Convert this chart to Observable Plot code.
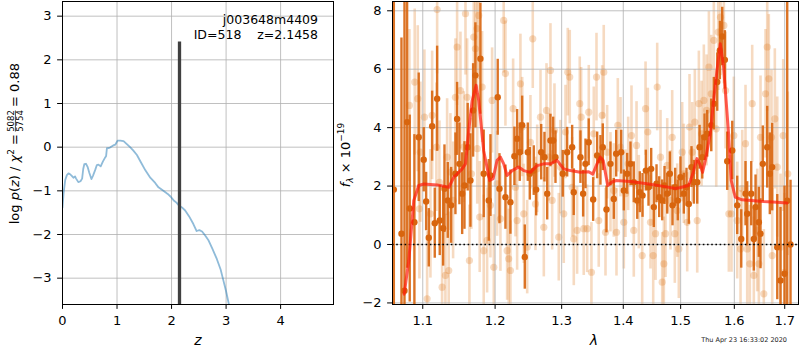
<!DOCTYPE html>
<html><head><meta charset="utf-8">
<script src="https://cdn.jsdelivr.net/npm/d3@7"></script>
<script src="https://cdn.jsdelivr.net/npm/@observablehq/plot@0.6"></script>
<style>
body{margin:0;background:#fff;}
#wrap{position:relative;width:800px;height:350px;overflow:hidden;background:#fff;}
#wrap svg{position:absolute;top:0;overflow:visible;font-family:"DejaVu Sans",sans-serif !important;}
#wrap svg text{font-family:"DejaVu Sans",sans-serif !important;}
#wrap svg g[aria-label$="tick label"] text{font-size:13px !important;}
</style></head><body><div id="wrap"></div>
<script>
// ---------- left panel: p(z) ----------
const zTicks = [0, 1, 2, 3, 4];
const logpTicks = [-3, -2, -1, 0, 1, 2, 3];
const pzZ = [0.00, 0.02, 0.05, 0.08, 0.11, 0.14, 0.17, 0.20, 0.23, 0.25, 0.27, 0.29, 0.33, 0.36, 0.38, 0.40, 0.43, 0.46, 0.49, 0.53,
  0.56, 0.60, 0.63, 0.66, 0.70, 0.74, 0.78, 0.80, 0.815, 0.84, 0.87, 0.93, 0.97, 1.01, 1.06, 1.12, 1.18, 1.24, 1.30, 1.365,
  1.44, 1.52, 1.61, 1.70, 1.76, 1.85, 1.93, 1.98, 2.04, 2.09, 2.13, 2.19, 2.25, 2.32, 2.40, 2.46, 2.51, 2.56, 2.62, 2.68,
  2.75, 2.83, 2.90, 2.95, 3.00, 3.05, 3.08];
const pzLogP = [-1.38, -1.05, -0.75, -0.64, -0.60, -0.62, -0.66, -0.70, -0.67, -0.72, -0.76, -0.80, -0.78, -0.72, -0.50, -0.39, -0.38, -0.45, -0.58, -0.73,
  -0.65, -0.52, -0.41, -0.40, -0.44, -0.33, -0.24, -0.20, -0.02, -0.02, -0.01, 0.04, 0.06, 0.15, 0.15, 0.14, 0.07, 0.00, -0.08, -0.18,
  -0.35, -0.53, -0.70, -0.82, -0.92, -1.00, -1.07, -1.13, -1.22, -1.27, -1.33, -1.38, -1.45, -1.58, -1.76, -1.92, -1.90, -1.93, -2.03, -2.14,
  -2.33, -2.56, -2.80, -3.05, -3.30, -3.59, -3.75];
const zBest = [2.1458];
const zBarTop = [2.41];
const objName = "j003648m4409";
const objId = 518;
const chi2Num = 5082, chi2Den = 5754, chi2Ratio = "0.88";

// ---------- right panel: spectrum ----------
const lamTicks = [1.1, 1.2, 1.3, 1.4, 1.5, 1.6, 1.7];
const fluxTicks = [-2, 0, 2, 4, 6, 8];
const zeroLine = [0];
const darkWave = [1.0624, 1.0722, 1.0761, 1.0795, 1.0829, 1.0890, 1.0947, 1.1013, 1.1045, 1.1080,
  1.1125, 1.1160, 1.1192, 1.1227, 1.1273, 1.1291, 1.1336, 1.1382, 1.1441, 1.1464,
  1.1496, 1.1534, 1.1566, 1.1611, 1.1649, 1.1687, 1.1719, 1.1790, 1.1837, 1.1909,
  1.1933, 1.2038, 1.2063, 1.2150, 1.2223, 1.2282, 1.2322, 1.2361, 1.2397, 1.2436,
  1.2481, 1.2511, 1.2571, 1.2608, 1.2684, 1.2734, 1.2776, 1.2826, 1.2868, 1.2904,
  1.3017, 1.3086, 1.3165, 1.3190, 1.3297, 1.3340, 1.3378, 1.3430, 1.3502, 1.3567,
  1.3621, 1.3659, 1.3720, 1.3786, 1.3841, 1.3881, 1.3965, 1.4009, 1.4066, 1.4122,
  1.4178, 1.4237, 1.4281, 1.4328, 1.4385, 1.4431, 1.4478, 1.4524, 1.4571, 1.4618,
  1.4671, 1.4712, 1.4760, 1.4806, 1.4854, 1.4902, 1.4949, 1.4997, 1.5057, 1.5106,
  1.5148, 1.5197, 1.5240, 1.5302, 1.5345, 1.5395, 1.5437, 1.5487, 1.5562, 1.5611,
  1.5675, 1.5724, 1.5769, 1.5819, 1.5864, 1.5960, 1.6056, 1.6134, 1.6217, 1.6250,
  1.6329, 1.6380, 1.6414, 1.6479, 1.6512, 1.6558, 1.6646, 1.6698, 1.6746, 1.6848,
  1.6914, 1.6996, 1.7051, 1.7119];
const darkFlux = [1.88, 0.37, -1.58, 4.19, 1.23, 0.76, 3.67, 2.90, 1.47, 0.23,
  4.05, 0.73, 4.99, 0.82, 0.56, 1.91, 1.51, 1.34, 2.42, 4.30,
  2.76, 1.74, 2.02, 3.33, 2.19, 4.59, 5.79, 6.36, 2.42, 1.51,
  2.36, 5.04, 1.91, 1.62, 1.45, 3.02, 3.62, 3.16, 4.08, -0.43,
  3.16, 2.42, 2.53, 1.88, 3.16, 2.99, 1.74, 3.56, 3.56, 2.99,
  2.42, 3.16, 3.33, 1.79, 2.99, 1.74, 2.76, 3.50, 1.54, 3.05,
  2.88, 3.33, 1.20, 2.76, 1.56, 3.11, 3.16, 1.85, 2.42, 2.76,
  2.13, 1.51, 1.79, 1.68, 2.53, 1.96, 2.59, 1.28, 2.08, 1.62,
  1.51, 2.02, 1.74, 2.42, 1.34, 1.96, 1.51, 2.30, 1.74, 1.96,
  1.39, 2.65, 2.13, 2.13, 3.33, 2.99, 3.67, 3.79, 4.08, 4.82,
  5.56, 6.64, 7.12, 6.32, 2.85, 3.22, 1.34, 0.19, 1.74, 1.05,
  1.74, 0.19, 1.28, 0.76, 0.37, 2.76, 3.33, 2.42, 2.65, -0.09,
  -1.23, -1.00, 1.50, 0.00];
const darkErr = [12, 6.7, 10, 5, 3.2, 3.0, 2.2, 1.1, 1.0, 1.0,
  1.2, 1.2, 1.8, 1.2, 1.3, 1.5, 1.3, 1.3, 1.4, 1.25,
  1.4, 1.4, 1.5, 1.5, 1.6, 1.6, 1.8, 1.9, 1.5, 1.4,
  1.4, 1.3, 1.2, 1.1, 1.1, 1.0, 1.0, 1.0, 1.0, 1.1,
  1.0, 0.9, 0.85, 0.9, 0.95, 0.85, 0.9, 0.9, 0.8, 0.9,
  0.8, 0.85, 0.75, 0.8, 0.9, 0.8, 0.85, 0.8, 0.75, 0.8,
  0.85, 0.8, 0.8, 0.75, 0.7, 0.8, 0.75, 0.7, 0.7, 0.75,
  0.7, 0.65, 0.7, 0.75, 0.7, 0.65, 0.7, 0.7, 0.65, 0.7,
  0.7, 0.65, 0.7, 0.75, 0.7, 0.65, 0.7, 0.7, 0.7, 0.65,
  0.7, 0.7, 0.75, 0.75, 0.75, 0.75, 0.8, 0.8, 0.9, 0.9,
  1.0, 1.0, 1.0, 1.0, 1.0, 1.0, 1.0, 1.0, 1.1, 1.1,
  1.1, 1.1, 1.1, 1.2, 1.2, 1.3, 1.4, 1.4, 1.5, 1.8,
  2.5, 3.0, 12, 2.2];
const lightWave = [1.0825, 1.0894, 1.0934, 1.0956, 1.0969, 1.1022, 1.1058, 1.1102, 1.1125, 1.1182,
  1.1192, 1.1223, 1.1259, 1.1304, 1.1327, 1.1349, 1.1372, 1.1409, 1.1441, 1.1464,
  1.1510, 1.1556, 1.1580, 1.1603, 1.1635, 1.1663, 1.1696, 1.1719, 1.1743, 1.1766,
  1.1745, 1.1780, 1.1814, 1.1837, 1.1885, 1.1933, 1.1957, 1.1981, 1.2029, 1.2077,
  1.2125, 1.2150, 1.2175, 1.2198, 1.2223, 1.2263, 1.2297, 1.2322, 1.2371, 1.2397,
  1.2421, 1.2472, 1.2521, 1.2556, 1.2597, 1.2623, 1.2673, 1.2724, 1.2765, 1.2800,
  1.2826, 1.2852, 1.2888, 1.2955, 1.2981, 1.3033, 1.3060, 1.3096, 1.3127, 1.3165,
  1.3191, 1.3244, 1.3286, 1.3308, 1.3350, 1.3405, 1.3431, 1.3474, 1.3512, 1.3556,
  1.3593, 1.3649, 1.3675, 1.3704, 1.3731, 1.3786, 1.3841, 1.3886, 1.3908, 1.3953,
  1.4009, 1.4037, 1.4083, 1.4139, 1.4178, 1.4225, 1.4264, 1.4322, 1.4380, 1.4419,
  1.4466, 1.4513, 1.4554, 1.4583, 1.4641, 1.4671, 1.4700, 1.4730, 1.4760, 1.4818,
  1.4848, 1.4895, 1.4938, 1.4967, 1.5028, 1.5057, 1.5119, 1.5161, 1.5210, 1.5258,
  1.5302, 1.5332, 1.5382, 1.5424, 1.5475, 1.5518, 1.5562, 1.5611, 1.5656, 1.5694,
  1.5737, 1.5800, 1.5832, 1.5895, 1.5946, 1.5991, 1.6056, 1.6120, 1.6153, 1.6217,
  1.6250, 1.6301, 1.6348, 1.6380, 1.6447, 1.6479, 1.6512, 1.6578, 1.6612, 1.6646,
  1.6678, 1.6732, 1.6746, 1.6799, 1.6848, 1.6914, 1.6969, 1.6996, 1.7063];
const lightFlux = [4.76, 5.56, 4.99, 1.22, 3.16, 4.36, -1.86, 1.05, 4.42, 3.33,
  8.04, 2.13, -1.46, -1.06, 2.99, -0.89, 2.48, 1.51, 5.04, 6.76,
  5.27, 3.33, 7.90, 5.04, -0.55, 2.42, 7.10, 6.70, 7.39, 7.84,
  3.28, 0.94, 5.39, -0.21, 0.14, 1.34, 4.93, -0.78, 2.08, 0.88,
  7.67, 5.85, -0.21, -0.49, -0.89, 4.65, 1.96, 0.82, 5.50, 4.02,
  1.05, -0.09, 3.50, 7.04, 1.39, 2.59, 4.36, 0.59, 4.59, 2.99,
  5.96, 1.51, 3.90, 0.25, 2.65, 1.05, 3.85, 5.90, 5.73, 1.96,
  0.19, 0.48, 4.82, 4.36, 0.54, 0.54, 4.53, -0.95, 3.79, 5.73,
  0.82, 4.42, 5.90, 0.42, 3.16, 2.13, 1.85, 0.42, 4.08, 3.33,
  0.76, 1.74, 2.76, 3.73, 0.48, 3.39, 1.45, -0.38, 4.65, 3.85,
  0.76, -0.38, 0.37, 5.39, 2.99, -1.29, -0.66, 0.37, 2.71, 1.51,
  3.67, 0.37, 1.16, -0.15, 3.16, 2.42, 0.76, 4.02, 3.16, 4.19,
  0.82, 4.82, 3.79, 4.93, 4.59, 6.07, 5.16, 6.99, 3.96, 7.27,
  7.78, 7.50, 5.27, 1.05, 1.05, 3.73, 0.82, -0.15, 1.91, 3.45,
  -0.15, -0.66, 4.82, -1.06, 0.48, -0.66, 3.67, -1.69, 5.16, 6.76,
  5.67, 3.67, -0.38, 4.30, 2.65, -0.09, 3.73, -0.95, 2.42];
const lightErr = [2.6, 2.5, 2.5, 2.4, 2.4, 2.3, 2.3, 2.2, 2.2, 2.2,
  2.2, 2.1, 2.1, 2.1, 2.0, 2.0, 2.0, 2.0, 2.0, 2.0,
  2.0, 1.9, 2.1, 2.0, 1.9, 1.9, 2.1, 2.1, 2.2, 2.2,
  1.9, 1.9, 1.9, 1.9, 1.8, 1.8, 1.8, 1.8, 1.8, 1.8,
  1.8, 1.8, 1.7, 1.7, 1.7, 1.7, 1.7, 1.7, 1.7, 1.7,
  1.7, 1.6, 1.6, 1.7, 1.6, 1.5, 1.6, 1.7, 1.6, 1.5,
  1.6, 1.7, 1.6, 1.5, 1.6, 1.7, 1.6, 1.5, 1.6, 1.7,
  1.6, 1.5, 1.6, 1.7, 1.6, 1.5, 1.6, 1.7, 1.6, 1.5,
  1.6, 1.7, 1.6, 1.5, 1.6, 1.7, 1.6, 1.5, 1.6, 1.7,
  1.6, 1.5, 1.6, 1.7, 1.6, 1.5, 1.6, 1.7, 1.6, 1.5,
  1.6, 1.7, 1.6, 1.5, 1.6, 1.7, 1.6, 1.5, 1.6, 1.7,
  1.6, 1.7, 1.6, 1.7, 1.7, 1.7, 1.7, 1.8, 1.7, 1.8,
  1.8, 1.8, 1.8, 1.9, 1.9, 1.9, 2.0, 2.0, 2.0, 2.0,
  2.0, 2.0, 2.0, 2.0, 2.0, 2.0, 2.0, 2.0, 2.0, 2.0,
  2.0, 2.0, 2.0, 2.0, 2.1, 2.1, 2.1, 2.2, 2.2, 2.2,
  2.2, 2.3, 2.3, 2.4, 2.4, 2.5, 2.6, 2.7, 2.8];
const modelWave = [1.0757, 1.0817, 1.0882, 1.0947, 1.1013, 1.1192, 1.1350, 1.1418, 1.1534, 1.1580,
  1.1625, 1.1673, 1.1729, 1.1766, 1.1837, 1.1922, 1.1971, 1.2028, 1.2077, 1.2125,
  1.2174, 1.2248, 1.2345, 1.2419, 1.2521, 1.2621, 1.2722, 1.2825, 1.2928, 1.3032,
  1.3136, 1.3295, 1.3429, 1.3496, 1.3565, 1.3620, 1.3665, 1.3740, 1.3812, 1.3882,
  1.4120, 1.4405, 1.4696, 1.4904, 1.4980, 1.5144, 1.5220, 1.5297, 1.5348, 1.5400,
  1.5452, 1.5544, 1.5600, 1.5670, 1.5732, 1.5795, 1.5890, 1.5940, 1.6018, 1.6148,
  1.6573, 1.6842, 1.7046];
const modelFlux = [-1.70, -0.55, 1.51, 2.02, 2.07, 2.04, 1.96, 2.30, 2.59, 2.76,
  3.90, 4.92, 5.45, 4.92, 3.20, 2.19, 2.25, 2.88, 2.99, 2.76,
  2.36, 2.53, 2.65, 2.53, 2.47, 2.70, 2.76, 2.76, 2.88, 2.59,
  2.53, 2.47, 2.49, 2.41, 2.76, 2.99, 2.88, 2.02, 2.14, 2.19,
  2.16, 2.08, 1.99, 1.92, 1.94, 2.02, 2.41, 2.94, 2.76, 2.47,
  2.88, 3.79, 4.82, 5.96, 6.87, 6.08, 3.79, 2.19, 1.62, 1.53,
  1.47, 1.45, 1.42];
const stamp = "Thu Apr 23 16:33:02 2020";

// ---------- build ----------
const FONT = '"DejaVu Sans", sans-serif';
const FS = 13;
const minus = d => (d < 0 ? "\u2212" : "") + Math.abs(d);
const GRID = {stroke: "#b0b0b0", strokeOpacity: 1, strokeWidth: 0.8};
const AX = {tickSize: 4.9, tickPadding: 6, label: null, fontSize: FS};
const pz = pzZ.map((z, i) => ({z, lp: pzLogP[i]}));
const zbar = zBest.map((z, i) => ({z, top: zBarTop[i]}));
const dark = darkWave.map((w, i) => ({w, f: darkFlux[i], e: darkErr[i]}));
const light = lightWave.map((w, i) => ({w, f: lightFlux[i], e: lightErr[i]}));
const model = modelWave.map((w, i) => ({w, f: modelFlux[i]}));
const LY = [-3.603, 3.336];
const RY = [-2.054, 8.318];

const left = Plot.plot({
  width: 340, height: 350, marginLeft: 62, marginRight: 7, marginTop: 1, marginBottom: 46,
  style: "background: white; color: black; font-family: 'DejaVu Sans', sans-serif; font-size: 13px;",
  x: {domain: [0, 4.97]},
  y: {domain: LY},
  marks: [
    Plot.gridX(zTicks, GRID),
    Plot.gridY(logpTicks, GRID),
    Plot.line(pz, {x: "z", y: "lp", stroke: "#1f77b4", strokeOpacity: 0.5, strokeWidth: 1.8, clip: true}),
    Plot.ruleX(zbar, {x: "z", y1: LY[0], y2: "top", stroke: "#404040", strokeWidth: 3.3, clip: true}),
    Plot.axisX(zTicks, {...AX, tickFormat: minus}),
    Plot.axisY(logpTicks, {...AX, tickFormat: minus}),
    Plot.frame({stroke: "black", strokeWidth: 1})
  ]
});

const right = Plot.plot({
  width: 470, height: 350, marginLeft: 62, marginRight: 2, marginTop: 1, marginBottom: 46,
  style: "background: transparent; color: black; font-family: 'DejaVu Sans', sans-serif; font-size: 13px;",
  x: {type: "log", domain: [1.0607, 1.7284]},
  y: {domain: RY},
  marks: [
    Plot.ruleX(light, {x: "w", y1: d => d.f - d.e, y2: d => d.f + d.e, stroke: "#e07a20", strokeOpacity: 0.28, strokeWidth: 2.6, clip: true}),
    Plot.dot(light, {x: "w", y: "f", r: 3.6, fill: "#e07a20", fillOpacity: 0.28, stroke: "none", clip: true}),
    Plot.gridX(lamTicks, GRID),
    Plot.gridY(fluxTicks, GRID),
    Plot.ruleX(dark, {x: "w", y1: d => d.f - d.e, y2: d => d.f + d.e, stroke: "#d8650e", strokeOpacity: 0.9, strokeWidth: 2.4, clip: true}),
    Plot.dot(dark, {x: "w", y: "f", r: 3.2, fill: "#d8650e", stroke: "none", clip: true}),
    Plot.ruleY(zeroLine, {stroke: "black", strokeDasharray: "1.6,2.6", strokeWidth: 1.6}),
    Plot.line(model, {x: "w", y: "f", stroke: "#ff1a0a", strokeOpacity: 0.7, strokeWidth: 3, clip: true}),
    Plot.axisX(lamTicks, {...AX, tickFormat: d => d.toFixed(1)}),
    Plot.axisY(fluxTicks, {...AX, tickFormat: minus}),
    Plot.frame({stroke: "black", strokeWidth: 1})
  ]
});

// enforce tick label font size on the text nodes of every axis mark
for (const svg of [left, right]) {
  d3.select(svg).selectAll("g[aria-label]")
    .filter(function () { return /tick label/.test(this.getAttribute("aria-label")); })
    .attr("font-size", FS)
    .selectAll("text").attr("font-size", FS);
}

const wrap = document.getElementById("wrap");
left.style.left = "0px";
right.style.left = "330px";
wrap.appendChild(left);
wrap.appendChild(right);

// left labels
const sl = d3.select(left);
const ann = sl.append("g").attr("font-family", FONT).attr("font-size", 12.5).attr("fill", "black").attr("text-anchor", "end");
ann.append("text").attr("x", 318).attr("y", 24).text(objName);
ann.append("text").attr("x", 318).attr("y", 39).attr("xml:space", "preserve").style("white-space", "pre")
  .text(`ID=${objId}    z=${zBest[0].toFixed(4)}`);
sl.append("text").attr("x", 198).attr("y", 345).attr("text-anchor", "middle").attr("font-family", FONT)
  .attr("font-size", 14).attr("font-style", "italic").attr("fill", "black").text("z");

const gy = sl.append("g").attr("transform", "translate(19,239) rotate(-90)").attr("font-family", FONT).attr("font-size", 13).attr("fill", "black");
const t1 = gy.append("text").attr("x", 105).attr("y", 0).attr("text-anchor", "end").attr("xml:space", "preserve").style("white-space", "pre");
t1.append("tspan").text("log ");
t1.append("tspan").attr("font-style", "italic").text("p");
t1.append("tspan").text("(");
t1.append("tspan").attr("font-style", "italic").text("z");
t1.append("tspan").text(") / ");
t1.append("tspan").attr("font-style", "italic").text("\u03c7");
t1.append("tspan").attr("font-size", 9).attr("dy", -5.5).text("2");
t1.append("tspan").attr("dy", 5.5).text(" =");
gy.append("text").attr("x", 118).attr("y", -5).attr("text-anchor", "middle").attr("font-size", 8.5).text(String(chi2Num));
gy.append("line").attr("x1", 107.5).attr("x2", 128.5).attr("y1", -3.6).attr("y2", -3.6).attr("stroke", "black").attr("stroke-width", 0.7);
gy.append("text").attr("x", 118).attr("y", 3.6).attr("text-anchor", "middle").attr("font-size", 8.5).text(String(chi2Den));
gy.append("text").attr("x", 132).attr("y", 0).attr("text-anchor", "start").attr("xml:space", "preserve").style("white-space", "pre").text("= " + chi2Ratio);

// right labels (right svg starts at x = 330)
const sr = d3.select(right);
const gr = sr.append("g").attr("transform", "translate(19.5,155) rotate(-90)").attr("font-family", FONT).attr("font-size", 13).attr("fill", "black");
const t2 = gr.append("text").attr("x", 0).attr("y", 0).attr("text-anchor", "middle").attr("xml:space", "preserve").style("white-space", "pre");
t2.append("tspan").attr("font-style", "italic").text("f");
t2.append("tspan").attr("font-size", 9).attr("font-style", "italic").attr("dy", 3).text("\u03bb");
t2.append("tspan").attr("dy", -3).text(" \u00d7 10");
t2.append("tspan").attr("font-size", 9).attr("dy", -5.5).text("\u221219");
sr.append("text").attr("x", 264).attr("y", 345).attr("text-anchor", "middle").attr("font-family", FONT)
  .attr("font-size", 14).attr("font-style", "italic").attr("fill", "black").text("\u03bb");
sr.append("text").attr("x", 457).attr("y", 342).attr("text-anchor", "end").attr("font-family", FONT)
  .attr("font-size", 6.5).attr("fill", "#222").text(stamp);
</script></body></html>
